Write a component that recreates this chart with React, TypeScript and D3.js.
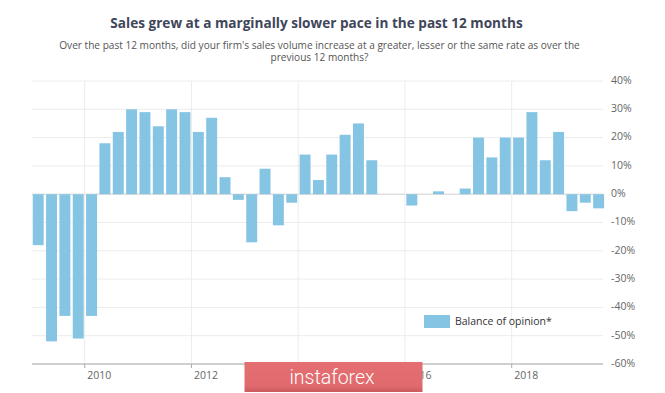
import React from "react";
import * as d3 from "d3";

const quarters = [
  "2009 Q1", "2009 Q2", "2009 Q3", "2009 Q4",
  "2010 Q1", "2010 Q2", "2010 Q3", "2010 Q4",
  "2011 Q1", "2011 Q2", "2011 Q3", "2011 Q4",
  "2012 Q1", "2012 Q2", "2012 Q3", "2012 Q4",
  "2013 Q1", "2013 Q2", "2013 Q3", "2013 Q4",
  "2014 Q1", "2014 Q2", "2014 Q3", "2014 Q4",
  "2015 Q1", "2015 Q2", "2015 Q3", "2015 Q4",
  "2016 Q1", "2016 Q2", "2016 Q3", "2016 Q4",
  "2017 Q1", "2017 Q2", "2017 Q3", "2017 Q4",
  "2018 Q1", "2018 Q2", "2018 Q3", "2018 Q4",
  "2019 Q1", "2019 Q2", "2019 Q3",
];

const balance = [
  -18, -52, -43, -51,
  -43, 18, 22, 30,
  29, 24, 30, 29,
  22, 27, 6, -2,
  -17, 9, -11, -3,
  14, 5, 14, 21,
  25, 12, 0, 0,
  -4, 0, 1, 0,
  2, 20, 13, 20,
  20, 29, 12, 22,
  -6, -3, -5,
];

const yTicks = [40, 30, 20, 10, 0, -10, -20, -30, -40, -50, -60];
const xTickYears = [2010, 2012, 2014, 2016, 2018];

const title = "Sales grew at a marginally slower pace in the past 12 months";
const subtitle1 =
  "Over the past 12 months, did your firm's sales volume increase at a greater, lesser or the same rate as over the";
const subtitle2 = "previous 12 months?";
const legendLabel = "Balance of opinion*";

const W = 665;
const H = 393;
const plotLeft = 32;
const plotRight = 603;
const barColor = "#85c4e3";
const font = "'Open Sans', sans-serif";

function parseQ(q: string): number {
  const [y, qq] = q.split(" Q");
  return +y + (+qq - 1) / 4;
}

export default function App() {
  const x = d3.scaleLinear().domain([2010, 2018]).range([84.7, 511.7]);
  const y = d3.scaleLinear().domain([-60, 40]).range([364, 81]);
  const qw = x(2009.25) - x(2009);
  const barW = qw - 2.4;

  return (
    <svg
      width={W}
      height={H}
      style={{ position: "absolute", left: 0, top: 0, background: "#fff" }}
      fontFamily={font}
    >
      <rect x={0} y={0} width={W} height={H} fill="#fff" />
      <text x={316.5} y={27.5} textAnchor="middle" fontSize={13.6} fontWeight={700} fill="#40465a">
        {title}
      </text>
      <text x={319.5} y={48.5} textAnchor="middle" fontSize={10.1} fill="#555">
        {subtitle1}
      </text>
      <text x={319.5} y={60.5} textAnchor="middle" fontSize={10.1} fill="#555">
        {subtitle2}
      </text>

      {/* horizontal grid */}
      {yTicks.map((t) => (
        <line
          key={"h" + t}
          x1={plotLeft}
          x2={plotRight}
          y1={y(t)}
          y2={y(t)}
          stroke={t === 0 ? "#cfcfcf" : "#ececec"}
          strokeWidth={1}
        />
      ))}
      {/* vertical grid */}
      {xTickYears.map((t) => (
        <line key={"v" + t} x1={x(t)} x2={x(t)} y1={y(40)} y2={y(-60)} stroke="#ececec" strokeWidth={1} />
      ))}

      {/* bars */}
      {quarters.map((q, i) => {
        const v = balance[i];
        if (v === 0) return null;
        const x0 = x(parseQ(q)) + 1.4;
        const y0 = y(Math.max(0, v));
        const h = Math.abs(y(v) - y(0));
        return <rect key={q} x={x0} y={y0} width={barW} height={h} fill={barColor} />;
      })}

      {/* x axis */}
      <line x1={plotLeft} x2={plotRight} y1={y(-60)} y2={y(-60)} stroke="#aaaaaa" strokeWidth={1} />
      {xTickYears.map((t) => (
        <g key={"xt" + t}>
          <line x1={x(t)} x2={x(t)} y1={y(-60)} y2={y(-60) + 4} stroke="#aaaaaa" />
          <text x={x(t) + 2.5} y={376} dominantBaseline="middle" fontSize={10.5} fill="#666">
            {t}
          </text>
        </g>
      ))}

      {/* y axis labels */}
      {yTicks.map((t) => (
        <text key={"yt" + t} x={611} y={y(t)} dominantBaseline="middle" fontSize={10.5} fill="#666">
          {t + "%"}
        </text>
      ))}

      {/* legend */}
      <rect x={424} y={315} width={26} height={13} fill={barColor} />
      <text x={455} y={322} dominantBaseline="middle" fontSize={10.5} fill="#333">
        {legendLabel}
      </text>

      {/* watermark */}
      <defs>
        <linearGradient id="wm" x1="0" y1="0" x2="0" y2="1">
          <stop offset="0" stopColor="#e46f72" />
          <stop offset="0.8" stopColor="#e06a6d" />
          <stop offset="1" stopColor="#c95b5e" />
        </linearGradient>
      </defs>
      <rect x={244.5} y={362} width={178} height={30} fill="url(#wm)" />
      <text x={332} y={383.5} textAnchor="middle" fontSize={19.5} fontWeight={300} fill="#fff" fontFamily="Roboto, sans-serif">
        instaforex
      </text>
    </svg>
  );
}
